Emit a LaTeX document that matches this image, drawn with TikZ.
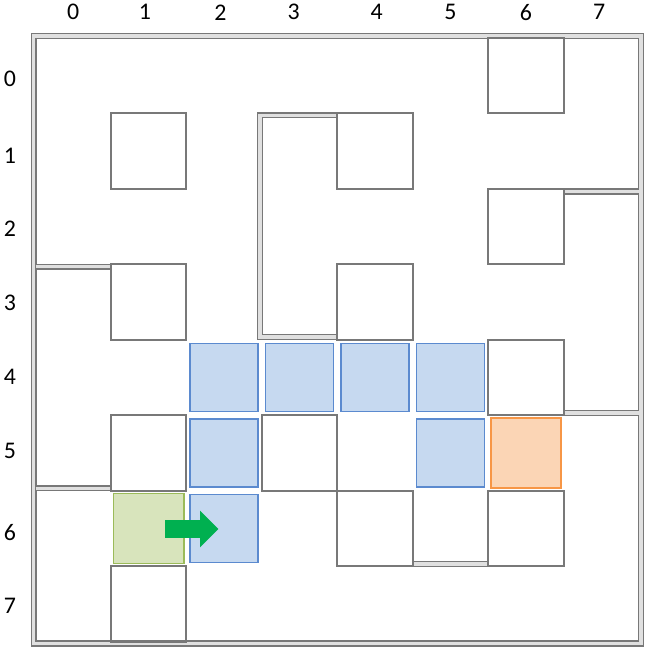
\documentclass[tikz,border=0pt]{standalone}
\usepackage{fontspec}
\setsansfont{Carlito}
\usepackage{tikz}
\definecolor{wallgray}{RGB}{120,120,120}
\definecolor{pathblue}{RGB}{198,217,240}
\definecolor{pathedge}{RGB}{91,138,207}
\definecolor{startgreen}{RGB}{216,228,188}
\definecolor{startedge}{RGB}{155,187,89}
\definecolor{goalorange}{RGB}{251,213,181}
\definecolor{goaledge}{RGB}{247,150,70}
\definecolor{arrowgreen}{RGB}{0,176,80}

\begin{document}
\begin{tikzpicture}[node distance=1cm,
  box node/.style={rectangle,draw=wallgray,line width=0.7pt,minimum size=1cm,inner sep=0pt},
  path node/.style={rectangle,fill=pathblue,draw=pathedge,line width=0.6pt,minimum size=0.9cm,inner sep=0pt},
  start node/.style={rectangle,fill=startgreen,draw=startedge,line width=0.6pt,minimum size=0.93cm,inner sep=0pt},
  goal node/.style={rectangle,fill=goalorange,draw=goaledge,line width=0.6pt,minimum size=0.93cm,inner sep=0pt},
  num node/.style={font=\sffamily\fontsize{9}{11}\selectfont,inner sep=0pt},
  wall/.style={draw=wallgray,double=black!12,double distance=1.4pt,line width=0.45pt}]

  \useasboundingbox (-0.4705,0.503) rectangle (8.091,-8.085);

  % column numbers
  \node[num node] (c0) at (0.5,0.34) {0};
  \node[num node] (c1) at (1.45,0.34) {1};
  \node[num node] (c2) at (2.45,0.34) {2};
  \node[num node] (c3) at (3.42,0.34) {3};
  \node[num node] (c4) at (4.52,0.34) {4};
  \node[num node] (c5) at (5.5,0.34) {5};
  \node[num node] (c6) at (6.5,0.34) {6};
  \node[num node] (c7) at (7.47,0.34) {7};

  % row numbers
  \node[num node] (r0) at (-0.34,-0.54) {0};
  \node[num node] (r1) at (-0.34,-1.56) {1};
  \node[num node] (r2) at (-0.34,-2.53) {2};
  \node[num node] (r3) at (-0.34,-3.51) {3};
  \node[num node] (r4) at (-0.34,-4.49) {4};
  \node[num node] (r5) at (-0.34,-5.47) {5};
  \node[num node] (r6) at (-0.34,-6.55) {6};
  \node[num node] (r7) at (-0.34,-7.52) {7};

  % walls
  \draw[wall] (-0.025,0.025) rectangle (8.025,-8.025);
  \draw[wall] (0,-3.03) -- (1,-3.03);
  \draw[wall] (4,-1.026) -- (2.98,-1.026) -- (2.98,-3.96) -- (4,-3.96);
  \draw[wall] (7,-2.035) -- (8,-2.035);
  \draw[wall] (7,-4.967) -- (8,-4.967);
  \draw[wall] (0,-5.97) -- (1,-5.97);
  \draw[wall] (5,-6.967) -- (6,-6.967);

  % blocked cells
  \node[box node] (b60) at (6.5,-0.5) {};
  \node[box node] (b11) at (1.5,-1.5) {};
  \node[box node] (b41) at (4.5,-1.5) {};
  \node[box node] (b62) at (6.5,-2.5) {};
  \node[box node] (b13) at (1.5,-3.5) {};
  \node[box node] (b43) at (4.5,-3.5) {};
  \node[box node] (b64) at (6.5,-4.5) {};
  \node[box node] (b15) at (1.5,-5.5) {};
  \node[box node] (b35) at (3.5,-5.5) {};
  \node[box node] (b46) at (4.5,-6.5) {};
  \node[box node] (b66) at (6.5,-6.5) {};
  \node[box node] (b17) at (1.5,-7.5) {};

  % path
  \node[path node] (p24) at (2.5,-4.5) {};
  \node[path node] (p34) [right of=p24] {};
  \node[path node] (p44) [right of=p34] {};
  \node[path node] (p54) [right of=p44] {};
  \node[path node] (p25) [below of=p24] {};
  \node[path node] (p26) [below of=p25] {};
  \node[path node] (p55) [below of=p54] {};

  \node[start node] (s) at (1.5,-6.5) {};
  \node[goal node] (g) at (6.5,-5.5) {};

  % heading
  \coordinate (t) at (1.717,-6.507);
  \fill[arrowgreen] (t) ++(0,0.117) -- ++(0.464,0) -- ++(0,0.126) -- ++(0.242,-0.243)
    -- ++(-0.242,-0.243) -- ++(0,0.126) -- ++(-0.464,0) -- cycle;

\end{tikzpicture}
\end{document}
